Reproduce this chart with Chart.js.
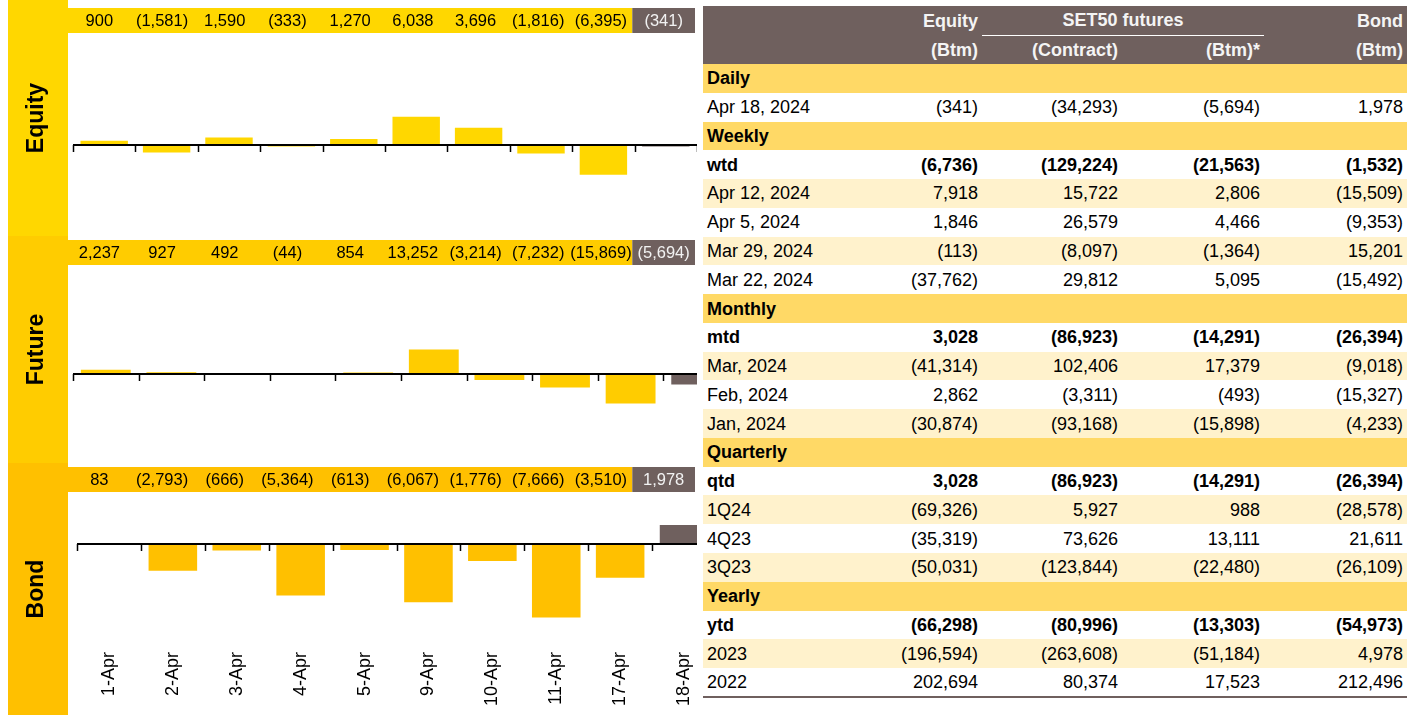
<!DOCTYPE html>
<html>
<head>
<meta charset="utf-8">
<script src="https://cdn.jsdelivr.net/npm/chart.js@4"></script>
<style>
  body { margin: 0; background: #fff; font-family: "Liberation Sans", Arial, sans-serif; }
  #left { position: absolute; left: 0; top: 0; width: 697px; height: 715px; overflow: hidden; }
  #left canvas { position: absolute; left: 0; }
  #flows { position: absolute; left: 703px; top: 6px; width: 704px; border-collapse: collapse; table-layout: fixed; font-size: 18px; color: #000; }
  #flows td, #flows th { padding: 0 4px; text-align: right; white-space: nowrap; line-height: 1; overflow: visible; }
  #flows thead tr { height: 29px; background: #6f605e; }
  #flows th { color: #f4f4f4; font-weight: bold; }
  #flows th.grp { text-align: center; border-bottom: 1.5px solid #fff; }
  #flows tbody tr { height: 28.77px; }
  #flows td.lbl { text-align: left; }
  #flows tr.section { background: #ffd966; font-weight: bold; }
  #flows tr.shade { background: #fff2cc; }
  #flows tr.bold { font-weight: bold; }
  #flows tbody tr:last-child { border-bottom: 2px solid #6f605e; }
</style>
</head>
<body>
<div id="left">
  <canvas id="eq" width="697" height="236" style="top:0px"></canvas>
  <canvas id="fu" width="730" height="227" style="top:236px"></canvas>
  <canvas id="bo" width="717" height="252" style="top:463px"></canvas>
</div>
<table id="flows">
  <colgroup><col style="width:180px"><col style="width:99px"><col style="width:140px"><col style="width:142px"><col style="width:143px"></colgroup>
  <thead>
    <tr><th></th><th>Equity</th><th class="grp" colspan="2">SET50 futures</th><th>Bond</th></tr>
    <tr><th></th><th>(Btm)</th><th>(Contract)</th><th>(Btm)*</th><th>(Btm)</th></tr>
  </thead>
  <tbody></tbody>
</table>
<script>
// daily foreign net flows, Btm
const dates = ['1-Apr', '2-Apr', '3-Apr', '4-Apr', '5-Apr', '9-Apr', '10-Apr', '11-Apr', '17-Apr', '18-Apr'];
const equityFlows = [900, -1581, 1590, -333, 1270, 6038, 3696, -1816, -6395, -341];
const futureFlows = [2237, 927, 492, -44, 854, 13252, -3214, -7232, -15869, -5694];
const bondFlows = [83, -2793, -666, -5364, -613, -6067, -1776, -7666, -3510, 1978];

// summary table (null = section header row)
const tableLabels = ['Daily', 'Apr 18, 2024', 'Weekly', 'wtd', 'Apr 12, 2024', 'Apr 5, 2024', 'Mar 29, 2024', 'Mar 22, 2024',
  'Monthly', 'mtd', 'Mar, 2024', 'Feb, 2024', 'Jan, 2024', 'Quarterly', 'qtd', '1Q24', '4Q23', '3Q23',
  'Yearly', 'ytd', '2023', '2022'];
const tableEquity = [null, -341, null, -6736, 7918, 1846, -113, -37762, null, 3028, -41314, 2862, -30874,
  null, 3028, -69326, -35319, -50031, null, -66298, -196594, 202694];
const tableContracts = [null, -34293, null, -129224, 15722, 26579, -8097, 29812, null, -86923, 102406, -3311, -93168,
  null, -86923, 5927, 73626, -123844, null, -80996, -263608, 80374];
const tableFutBtm = [null, -5694, null, -21563, 2806, 4466, -1364, 5095, null, -14291, 17379, -493, -15898,
  null, -14291, 988, 13111, -22480, null, -13303, -51184, 17523];
const tableBond = [null, 1978, null, -1532, -15509, -9353, 15201, -15492, null, -26394, -9018, -15327, -4233,
  null, -26394, -28578, 21611, -26109, null, -54973, 4978, 212496];
const boldLabels = ['wtd', 'mtd', 'qtd', 'ytd'];

const GREY = '#6f605e';
const FONT = '"Liberation Sans", Arial, sans-serif';

function fmt(v) {
  const s = Math.abs(v).toLocaleString('en-US');
  return v < 0 ? '(' + s + ')' : s;
}

// table
const tbody = document.querySelector('#flows tbody');
let k = 0;
tableLabels.forEach((lbl, i) => {
  const tr = document.createElement('tr');
  if (tableEquity[i] === null) {
    tr.className = 'section';
    tr.innerHTML = '<td class="lbl" colspan="5">' + lbl + '</td>';
    k = 0;
  } else {
    if (boldLabels.includes(lbl)) tr.className = 'bold';
    else if (k % 2 === 1) tr.className = 'shade';
    k++;
    tr.innerHTML = '<td class="lbl">' + lbl + '</td>' +
      [tableEquity, tableContracts, tableFutBtm, tableBond].map(col => '<td>' + fmt(col[i]) + '</td>').join('');
  }
  tbody.appendChild(tr);
});

// left panels
const panelDraw = {
  id: 'panelDraw',
  beforeDraw(chart, args, o) {
    const c = chart.ctx;
    c.save();
    // name column
    c.fillStyle = o.color;
    c.fillRect(8, 0, 60, chart.height);
    c.translate(37, chart.height / 2);
    c.rotate(-Math.PI / 2);
    c.fillStyle = '#000';
    c.font = 'bold 23px ' + FONT;
    c.textAlign = 'center';
    c.textBaseline = 'middle';
    c.fillText(o.name, 0, 0);
    c.restore();

    // value strip
    c.save();
    const cw = 62.7, x0 = 68, n = o.values.length;
    c.fillStyle = o.color;
    c.fillRect(x0, o.stripTop, cw * (n - 1), 25);
    c.fillStyle = GREY;
    c.fillRect(x0 + cw * (n - 1), o.stripTop, cw, 25);
    c.font = '16.5px ' + FONT;
    c.textAlign = 'center';
    c.textBaseline = 'middle';
    o.values.forEach((v, i) => {
      c.fillStyle = i === n - 1 ? '#f2f2f2' : '#000';
      c.fillText(fmt(v), x0 + cw * (i + 0.5), o.stripTop + 13);
    });
    c.restore();
  },
  afterDatasetsDraw(chart, args, o) {
    const c = chart.ctx;
    const xs = chart.scales.x;
    const y0 = chart.scales.y.getPixelForValue(0);
    const n = o.values.length;
    c.save();
    c.strokeStyle = '#000';
    c.lineWidth = 1.5;
    c.beginPath();
    for (let i = 0; i <= n; i++) {
      const x = Math.round(xs.getPixelForValue(i - 0.5)) + 0.5;
      c.moveTo(x, y0);
      c.lineTo(x, y0 + 7);
    }
    c.stroke();
    c.lineWidth = 2;
    c.beginPath();
    c.moveTo(xs.left, y0);
    c.lineTo(xs.right, y0);
    c.stroke();

    if (o.dates) {
      c.font = '18px ' + FONT;
      c.fillStyle = '#000';
      c.textAlign = 'right';
      c.textBaseline = 'middle';
      o.dates.forEach((d, i) => {
        c.save();
        c.translate(xs.getPixelForValue(i), o.dateTop);
        c.rotate(-Math.PI / 2);
        c.fillText(d, 0, 0);
        c.restore();
      });
    }
    c.restore();
  }
};

function makePanel(id, name, values, color, yMin, yMax, padding, stripTop, withDates) {
  new Chart(document.getElementById(id), {
    type: 'bar',
    data: {
      labels: dates,
      datasets: [{
        data: values,
        backgroundColor: values.map((v, i) => i === values.length - 1 ? GREY : color),
        barPercentage: 0.76,
        categoryPercentage: 1
      }]
    },
    options: {
      responsive: false,
      animation: false,
      events: [],
      layout: { padding },
      plugins: {
        legend: { display: false },
        tooltip: { enabled: false },
        panelDraw: { name, values, color, stripTop, dates: withDates ? dates : null, dateTop: 189 }
      },
      scales: {
        x: { display: false },
        y: { display: false, min: yMin, max: yMax }
      }
    },
    plugins: [panelDraw]
  });
}

makePanel('eq', 'Equity', equityFlows, '#ffd700', -18000, 22500, { left: 73, right: 0, top: 40, bottom: 7 }, 8, false);
makePanel('fu', 'Future', futureFlows, '#ffcc00', -45000, 56000, { left: 73, right: 1, top: 34, bottom: 5.4 }, 4, false);
makePanel('bo', 'Bond', bondFlows, '#ffc000', -10000, 5000, { left: 77, right: 1, top: 33, bottom: 75 }, 4, true);
</script>
</body>
</html>
